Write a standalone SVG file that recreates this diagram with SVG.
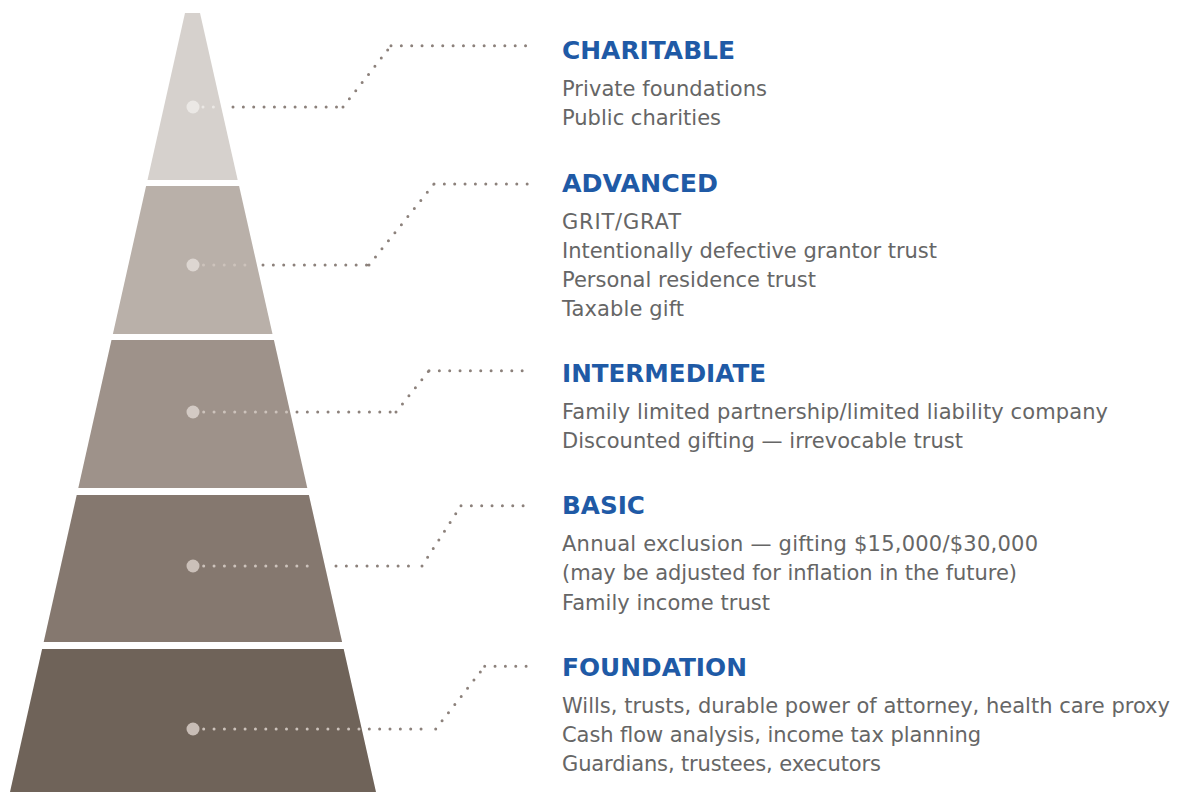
<svg xmlns="http://www.w3.org/2000/svg" width="1178" height="792" viewBox="0 0 1178 792">
<style>
.t{font-family:"DejaVu Sans","Liberation Sans",sans-serif;font-size:24.5px;font-weight:bold;fill:#1f5aa6}
.b{font-family:"DejaVu Sans","Liberation Sans",sans-serif;font-size:21px;fill:#666666}
.d{fill:none;stroke-width:3;stroke-linecap:round;stroke-dasharray:0 10.35}
.g{stroke:#8c817b}
.l1{stroke:#ebe8e5}
.l{stroke:#cdc3bc}
</style>
<rect width="1178" height="792" fill="#ffffff"/>
<g id="layer-charitable">
<polygon points="185,13 200,13 237.7,180 147.5,180" fill="#d6d1cd"/>
<circle cx="193" cy="107" r="6.5" fill="#ebe8e5"/>
</g>
<g id="layer-advanced">
<polygon points="146.1,186 239.1,186 272.5,334 112.9,334" fill="#b9b0a9"/>
<circle cx="193" cy="265" r="6.5" fill="#ddd6d1"/>
</g>
<g id="layer-intermediate">
<polygon points="111.5,340 273.9,340 307.3,488 78.3,488" fill="#9e928a"/>
<circle cx="193" cy="412" r="6.5" fill="#d3cac4"/>
</g>
<g id="layer-basic">
<polygon points="76.7,495 308.9,495 342.1,642 43.7,642" fill="#85786f"/>
<circle cx="193" cy="566" r="6.5" fill="#cbc0b9"/>
</g>
<g id="layer-foundation">
<polygon points="42.1,649 343.7,649 376,792 10,792" fill="#6f6359"/>
<circle cx="193" cy="729" r="6.5" fill="#c8bdb6"/>
</g>
<g id="connectors">
<path class="d l1" d="M203 107H214"/>
<path class="d g" d="M233 107H343M343 107L391 45.7M391 45.7H532"/>
<path class="d l" d="M203.5 265H254"/>
<path class="d g" d="M263 265H369M369 265L434 184M434 184H532"/>
<path class="d l" d="M203.7 412H288"/>
<path class="d g" d="M297 412H396M396 412L429 370.7M429 370.7H532"/>
<path class="d l" d="M203.7 566H317"/>
<path class="d g" d="M336 566H409M422 566L461 505.7M461 505.7H532"/>
<path class="d l" d="M203.7 729H360"/>
<path class="d g" d="M369.3 729H422M435.7 729L484.7 666.3M484.7 666.3H532"/>
</g>
<g id="text-charitable">
<text class="t" x="562" y="59.3" textLength="173" lengthAdjust="spacingAndGlyphs">CHARITABLE</text>
<text class="b" x="562" y="95.7" textLength="205">Private foundations</text>
<text class="b" x="562" y="124.5" textLength="159">Public charities</text>
</g>
<g id="text-advanced">
<text class="t" x="562" y="191.7" textLength="156" lengthAdjust="spacingAndGlyphs">ADVANCED</text>
<text class="b" x="562" y="229" textLength="119">GRIT/GRAT</text>
<text class="b" x="562" y="257.5" textLength="375">Intentionally defective grantor trust</text>
<text class="b" x="562" y="286.5" textLength="254">Personal residence trust</text>
<text class="b" x="562" y="316" textLength="122">Taxable gift</text>
</g>
<g id="text-intermediate">
<text class="t" x="562" y="382" textLength="204" lengthAdjust="spacingAndGlyphs">INTERMEDIATE</text>
<text class="b" x="562" y="419" textLength="546">Family limited partnership/limited liability company</text>
<text class="b" x="562" y="448" textLength="401">Discounted gifting — irrevocable trust</text>
</g>
<g id="text-basic">
<text class="t" x="562" y="514" textLength="83" lengthAdjust="spacingAndGlyphs">BASIC</text>
<text class="b" x="562" y="551" textLength="476">Annual exclusion — gifting $15,000/$30,000</text>
<text class="b" x="562" y="580" textLength="455">(may be adjusted for inflation in the future)</text>
<text class="b" x="562" y="610" textLength="208">Family income trust</text>
</g>
<g id="text-foundation">
<text class="t" x="562" y="676" textLength="185" lengthAdjust="spacingAndGlyphs">FOUNDATION</text>
<text class="b" x="562" y="713" textLength="608">Wills, trusts, durable power of attorney, health care proxy</text>
<text class="b" x="562" y="742" textLength="419">Cash flow analysis, income tax planning</text>
<text class="b" x="562" y="771" textLength="319">Guardians, trustees, executors</text>
</g>
</svg>
